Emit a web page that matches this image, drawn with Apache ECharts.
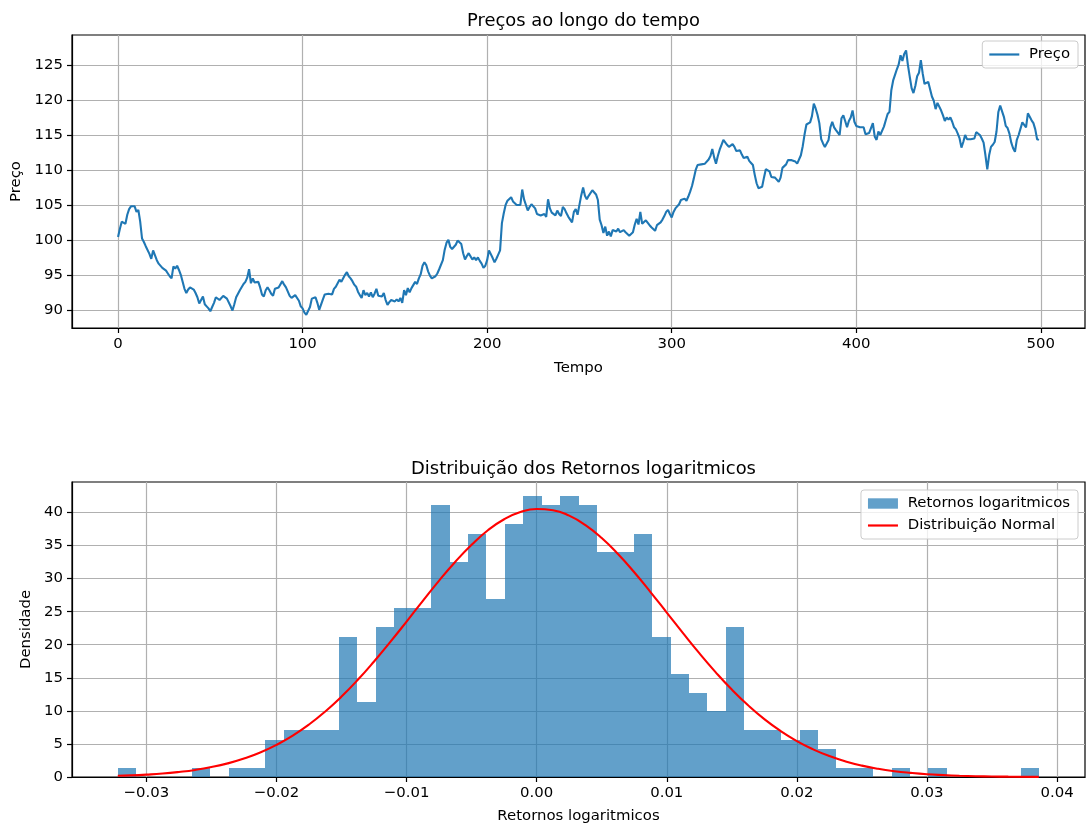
<!DOCTYPE html>
<html><head><meta charset="utf-8">
<script src="https://cdn.jsdelivr.net/npm/echarts@6/dist/echarts.min.js"></script>
<style>html,body{margin:0;padding:0;background:#fff}#c{width:1087px;height:825px}</style>
</head><body><div id="c"></div>
<script>
// ---- Data ----
const prices = [
100.4,101.6,102.6,102.4,102.3,103.6,104.4,104.8,104.6,104.8,
104.0,104.3,102.6,100.2,99.7,99.1,99.2,98.0,97.3,98.5,
98.3,97.1,96.6,96.7,96.0,95.8,95.6,95.2,94.8,94.5,
96.2,95.9,96.3,95.7,95.0,95.2,93.0,92.4,92.9,93.2,
93.1,92.9,92.4,91.8,90.9,90.8,91.9,90.8,90.5,90.2,
89.8,90.4,91.0,91.8,91.8,91.4,91.3,92.0,91.9,91.6,
91.4,90.5,89.9,90.8,91.8,92.3,92.8,92.6,93.7,94.0,
94.6,95.8,93.8,94.5,93.9,94.1,94.0,93.2,92.2,91.9,
92.8,93.2,92.8,92.3,92.0,93.0,93.1,93.2,93.4,94.1,
93.6,93.2,93.0,92.0,91.7,91.9,92.1,91.9,91.3,90.5,
90.2,89.6,89.3,89.5,90.4,91.6,91.8,91.8,91.0,90.0,
90.0,91.5,92.2,92.4,92.3,92.5,92.2,93.0,93.3,93.4,
94.3,94.0,94.1,95.0,95.4,94.8,94.5,94.1,93.6,93.3,
92.6,92.1,91.7,92.8,92.1,92.4,91.9,92.5,91.8,92.3,
93.0,92.0,92.1,91.9,92.4,91.4,90.7,91.1,91.4,91.6,
91.2,91.5,91.2,91.7,91.0,92.8,92.1,93.1,92.5,93.1,
93.3,94.0,93.7,94.5,95.1,96.3,96.8,96.4,95.5,94.9,
94.5,94.5,94.8,95.2,95.8,95.7,97.1,98.6,99.6,100.0,
99.0,98.7,98.7,99.3,99.9,99.9,99.4,98.1,97.2,97.7,
98.1,97.9,97.2,97.5,97.1,97.5,97.0,96.6,96.0,96.3,
97.1,98.5,98.7,97.4,96.8,97.3,97.9,98.5,102.4,103.8,
105.0,105.6,105.6,106.1,105.5,105.3,105.0,104.9,105.0,107.2,
105.8,105.7,104.2,104.7,105.1,105.0,104.5,103.7,103.8,103.5,
103.6,103.7,103.3,105.8,104.5,103.9,104.0,103.5,104.2,103.7,
103.4,104.7,104.4,103.8,103.3,102.9,102.5,104.0,104.4,103.6,
105.0,106.4,107.5,106.3,105.8,106.3,106.4,107.1,107.0,106.5,
105.7,102.9,102.1,101.0,101.9,100.6,101.2,100.5,101.4,101.3,
101.2,101.6,101.1,101.3,101.4,101.1,100.9,100.6,100.7,101.1,
102.2,103.0,102.2,104.0,102.3,102.4,102.8,102.6,102.1,101.8,
101.6,101.3,102.1,102.0,102.5,102.9,103.4,104.0,104.3,103.7,
103.2,104.0,104.5,104.6,105.1,105.7,105.8,105.9,105.6,106.2,
106.9,107.7,108.8,110.0,110.7,110.7,110.8,110.8,110.9,111.0,
111.5,112.0,113.0,111.8,110.9,112.0,112.9,113.6,114.3,114.3,
113.6,113.3,113.5,113.7,113.3,112.7,112.9,112.8,112.2,111.7,
111.7,111.9,111.3,111.0,110.7,109.3,108.1,107.4,107.2,107.6,
108.9,110.1,110.1,109.8,109.0,109.0,108.9,108.9,108.3,108.9,
110.3,110.4,110.8,111.4,111.3,111.4,111.5,111.2,110.9,111.0,
112.1,113.4,115.1,116.5,116.3,116.8,117.7,119.5,118.8,117.9,
116.7,114.4,113.8,113.3,113.3,114.3,116.1,116.9,116.1,115.7,
115.8,115.0,117.4,117.8,117.0,116.1,117.0,117.5,118.5,116.9,
116.3,116.1,116.1,116.0,116.1,115.1,115.1,115.3,116.0,116.7,
114.8,114.3,115.5,115.0,114.8,116.2,117.1,118.0,118.3,121.4,
122.8,123.6,124.4,125.1,126.4,125.6,126.6,127.1,125.0,123.3,
121.7,121.0,122.0,123.4,123.9,125.7,123.8,122.3,122.3,122.6,
122.5,120.5,119.9,118.7,119.6,119.5,118.5,117.8,117.0,117.5,
117.2,117.5,116.9,116.1,115.8,115.2,114.5,113.2,114.0,115.0,
114.4,114.5,114.4,114.3,114.5,115.4,115.6,115.0,114.5,113.9,
112.1,110.1,112.1,113.3,113.6,114.0,115.5,118.3,119.2,119.0,
117.6,116.3,116.0,115.2,113.9,113.1,112.6,114.3,115.0,115.0,
116.8,116.6,116.1,118.1,118.0,117.1,116.7,115.8,114.4,114.3
];
const timeTicks = [0, 100, 200, 300, 400, 500];
const priceTicks = [90, 95, 100, 105, 110, 115, 120, 125];

const histMin = -0.03218;
const histMax = 0.03861;
const histDensity = [
1.42,0,0,0,1.42,0,1.42,1.42,5.66,7.08,
7.08,7.08,21.23,11.32,22.65,25.48,25.48,41.05,32.56,36.80,
26.89,38.22,42.47,41.05,42.47,41.05,33.97,33.97,36.80,21.23,
15.57,12.74,9.91,22.65,7.08,7.08,5.66,7.08,4.25,1.42,
1.42,0,1.42,0,1.42,0,0,0,0,1.42
];
const normalX = [-0.0322,-0.03125,-0.030,-0.02875,-0.0275,-0.02625,-0.025,-0.02375,-0.0225,-0.02125,-0.020,-0.01875,-0.0175,-0.01625,-0.015,-0.01375,-0.0125,-0.01125,-0.010,-0.00875,-0.0075,-0.00625,-0.005,-0.00375,-0.0025,-0.00125,0,0.00125,0.0025,0.00375,0.005,0.00625,0.0075,0.00875,0.010,0.01125,0.0125,0.01375,0.015,0.01625,0.0175,0.01875,0.020,0.02125,0.0225,0.02375,0.025,0.02625,0.0275,0.02875,0.030,0.03125,0.0325,0.03375,0.035,0.03625,0.0386];
const normalY = [0.18,0.24,0.36,0.52,0.76,1.07,1.50,2.06,2.79,3.71,4.86,6.26,7.94,9.91,12.16,14.69,17.47,20.43,23.5,26.63,29.7,32.55,35.1,37.30,38.97,40.06,40.52,40.34,39.51,38.08,36.12,33.71,30.95,27.96,24.86,21.75,18.72,15.86,13.22,10.85,8.75,6.95,5.43,4.18,3.16,2.35,1.72,1.24,0.88,0.62,0.42,0.29,0.19,0.12,0.08,0.05,0.02];
const returnTicks = [-0.03, -0.02, -0.01, 0, 0.01, 0.02, 0.03, 0.04];
const densityTicks = [0, 5, 10, 15, 20, 25, 30, 35, 40];

// ---- Build options ----
const FONT = 'DejaVu Sans';
const FS = 14.9;
const TFS = 17.9;
const nBins = histDensity.length;
const binW = (histMax - histMin) / nBins;
const histData = histDensity.map((d, i) => [histMin + i * binW, histMin + (i + 1) * binW, d]);
const priceData = prices.map((p, i) => [i, p]);
const normalData = normalX.map((x, i) => [x, normalY[i]]);

const gridLine = {show: true, lineStyle: {color: '#b0b0b0', width: 1.2}};
function mkAxis(extra) {
  return Object.assign({
    type: 'value',
    axisLine: {show: true, onZero: false, lineStyle: {color: '#000', width: 1.2}},
    splitLine: gridLine,
    nameLocation: 'middle',
    nameTextStyle: {fontSize: FS, color: '#000', fontFamily: FONT},
  }, extra);
}
const fmtRet = v => (v < -1e-9 ? '\u2212' : '') + Math.abs(v).toFixed(2);
const LINE_ICON = 'path://M0,0H30V2.2H0Z';
const legendBase = {
  orient: 'vertical', itemWidth: 30, itemHeight: 10.4, itemGap: 7,
  borderColor: '#cccccc', borderWidth: 1, borderRadius: 3,
  backgroundColor: 'rgba(255,255,255,0.8)', selectedMode: false,
  textStyle: {fontSize: FS, color: '#000', fontFamily: FONT},
  formatter: n => ' ' + n
};
const tickStyle = vals => ({show: true, length: 5, lineStyle: {color: '#000', width: 1.2}, customValues: vals});

const option = {
  animation: false,
  backgroundColor: '#fff',
  textStyle: {fontFamily: FONT},
  title: [
    {text: 'Preços ao longo do tempo', left: 578.5, top: 7, textAlign: 'center',
     textStyle: {fontSize: TFS, fontWeight: 'normal', color: '#000', fontFamily: FONT}},
    {text: 'Distribuição dos Retornos logaritmicos', left: 578.5, top: 455, textAlign: 'center',
     textStyle: {fontSize: TFS, fontWeight: 'normal', color: '#000', fontFamily: FONT}}
  ],
  grid: [
    {left: 72, top: 35, width: 1013, height: 293, show: true, borderColor: '#000', borderWidth: 1.2, backgroundColor: '#fff'},
    {left: 72, top: 482, width: 1013, height: 296, show: true, borderColor: '#000', borderWidth: 1.2, backgroundColor: '#fff'}
  ],
  legend: [
    Object.assign({}, legendBase, {right: 9, top: 41, padding: [6, 8, 6, 7],
      data: [{name: 'Preço', icon: LINE_ICON, itemStyle: {color: '#1f77b4', borderWidth: 0}}]}),
    Object.assign({}, legendBase, {right: 9, top: 490, padding: [6, 8, 6, 7],
      data: [{name: 'Retornos logaritmicos', icon: 'rect', itemStyle: {color: 'rgba(31,119,180,0.7)', borderWidth: 0}},
             {name: 'Distribuição Normal', icon: LINE_ICON, itemStyle: {color: '#ff0000', borderWidth: 0}}]})
  ],
  xAxis: [
    mkAxis({gridIndex: 0, min: -24.95, max: 523.95, name: 'Tempo', nameGap: 33,
      axisTick: tickStyle(timeTicks),
      axisLabel: {customValues: timeTicks, margin: 9, fontSize: FS, color: '#000', fontFamily: FONT}}),
    mkAxis({gridIndex: 1, min: -0.03572, max: 0.04215, name: 'Retornos logaritmicos', nameGap: 32,
      axisTick: tickStyle(returnTicks),
      axisLabel: {customValues: returnTicks, margin: 9, fontSize: FS, color: '#000', fontFamily: FONT, formatter: fmtRet}})
  ],
  yAxis: [
    mkAxis({gridIndex: 0, min: 87.4, max: 129.3, name: 'Preço', nameGap: 42,
      axisTick: tickStyle(priceTicks),
      axisLabel: {customValues: priceTicks, margin: 9, fontSize: FS, color: '#000', fontFamily: FONT}}),
    mkAxis({gridIndex: 1, min: 0, max: 44.6, name: 'Densidade', nameGap: 33,
      axisTick: tickStyle(densityTicks),
      axisLabel: {customValues: densityTicks, margin: 9, fontSize: FS, color: '#000', fontFamily: FONT}})
  ],
  series: [
    {name: 'Preço', type: 'line', xAxisIndex: 0, yAxisIndex: 0, data: priceData,
     symbol: 'none', lineStyle: {color: '#1f77b4', width: 2.1}, itemStyle: {color: '#1f77b4'}, z: 3},
    {name: 'Retornos logaritmicos', type: 'custom', xAxisIndex: 1, yAxisIndex: 1, data: histData,
     encode: {x: [0, 1], y: 2}, itemStyle: {color: 'rgba(31,119,180,0.7)'},
     renderItem: function (params, api) {
       const p0 = api.coord([api.value(0), api.value(2)]);
       const p1 = api.coord([api.value(1), 0]);
       const x0 = Math.round(p0[0]), x1 = Math.round(p1[0]);
       const y0 = Math.round(p0[1]), y1 = Math.round(p1[1]);
       return {type: 'rect', shape: {x: x0, y: y0, width: x1 - x0, height: y1 - y0},
               style: {fill: 'rgba(31,119,180,0.7)'}};
     }, z: 2},
    {name: 'Distribuição Normal', type: 'line', xAxisIndex: 1, yAxisIndex: 1, data: normalData,
     symbol: 'none', smooth: true, lineStyle: {color: '#ff0000', width: 2.1}, itemStyle: {color: '#ff0000'}, z: 4}
  ]
};
const chart = echarts.init(document.getElementById('c'), null, {renderer: 'canvas'});
chart.setOption(option);
</script>
</body></html>
